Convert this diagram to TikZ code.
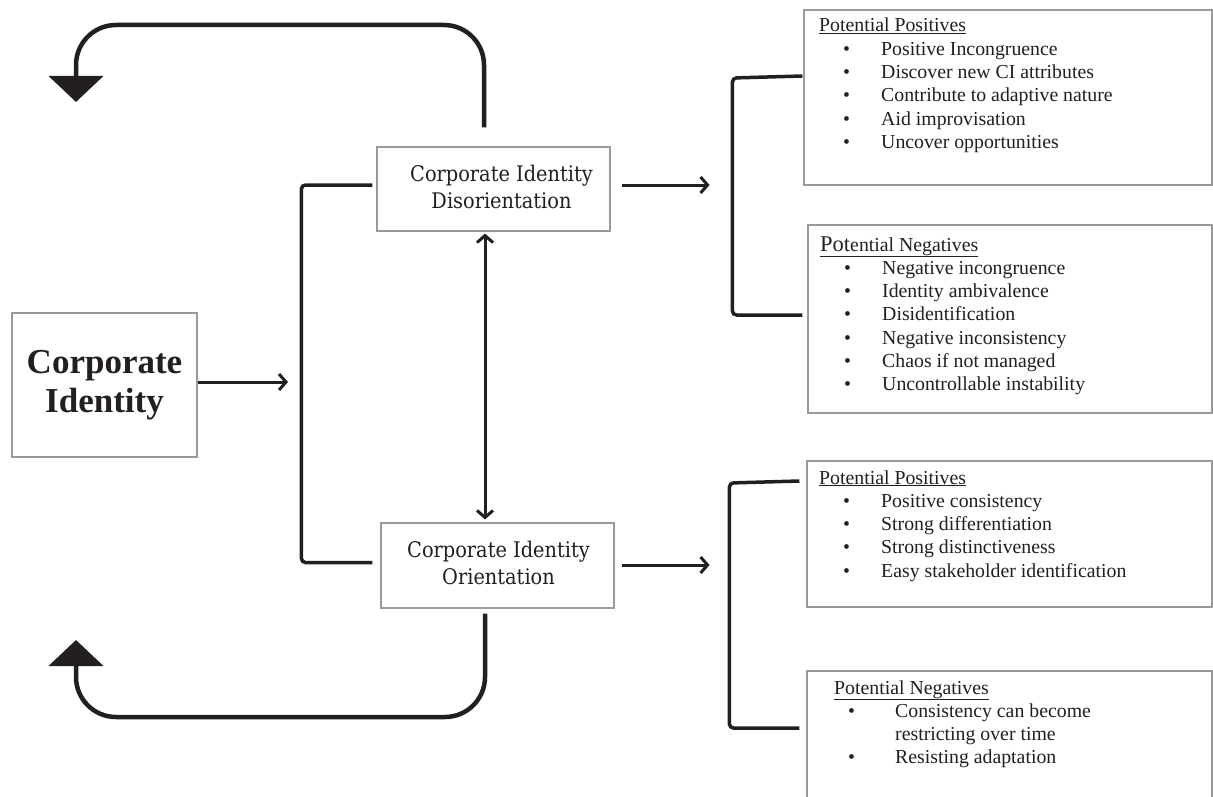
\documentclass[tikz,border=0pt]{standalone}
\usepackage{fontspec}
\setmainfont{Liberation Serif}
\newfontfamily\labfont[FakeStretch=0.9]{DejaVu Serif}
\usetikzlibrary{arrows.meta,calc}
\definecolor{ink}{HTML}{231F20}
\definecolor{frame}{HTML}{9A9A9A}
\newcommand{\itm}[1]{\hspace*{24pt}\makebox[38pt][l]{\textbullet}#1}
\newcommand{\itmb}[1]{\hspace*{14pt}\makebox[47pt][l]{\textbullet}#1}
\begin{document}
\begin{tikzpicture}[x=1pt,y=-1pt,
  lbox/.style={draw=frame, line width=1.1pt, rectangle, inner sep=0pt},
  rbox/.style={draw=frame, line width=1.1pt, rectangle, inner sep=0pt},
  labtext/.style={align=center, inner sep=0pt, text=ink, font=\labfont\fontsize{21.5}{27}\selectfont},
  listtext/.style={anchor=base west, inner sep=0pt, text=ink, font=\fontsize{19.8}{23.3}\selectfont},
  arr/.style={draw=ink, line width=3pt, -{Straight Barb[length=7pt,width=16pt]}},
  dbl/.style={draw=ink, line width=3pt, {Straight Barb[length=7pt,width=16pt]}-{Straight Barb[length=7pt,width=16pt]}},
  brk/.style={draw=ink, line width=3.5pt, rounded corners=4pt},
  backline/.style={draw=ink, line width=4.5pt, rounded corners=40pt, -{Triangle[width=54pt,length=26pt]}},
]
\clip (0,0) rectangle (1213,797);
\fill[white] (0,0) rectangle (1213,797);

% left boxes
\node[lbox, minimum width=185pt, minimum height=144pt, align=center, text=ink,
      font=\fontsize{35}{39}\selectfont\bfseries] (ci) at (104.5,385) {Corporate\\Identity};
\node[lbox, minimum width=233pt, minimum height=84pt] (dis) at (493.5,189) {};
\node[labtext] (distext) at ($(dis.center)+(8,-2)$) {Corporate Identity\\Disorientation};
\node[lbox, minimum width=233pt, minimum height=85pt] (ori) at (497.5,565.5) {};
\node[labtext] (oritext) at ($(ori.center)+(1,-3)$) {Corporate Identity\\Orientation};

% right boxes
\node[rbox, minimum width=408pt, minimum height=175pt] (b1) at (1008,97.5) {};
\node[rbox, minimum width=404pt, minimum height=188pt] (b2) at (1010,319) {};
\node[rbox, minimum width=405pt, minimum height=146pt] (b3) at (1009.5,534) {};
\node[rbox, minimum width=405pt, minimum height=159pt] (b4) at (1009.5,750.5) {};

\node[listtext] (t1) at (819,32) {\begin{tabular}[t]{@{}l@{}}
\underline{Potential Positives}\\
\itm{Positive Incongruence}\\
\itm{Discover new CI attributes}\\
\itm{Contribute to adaptive nature}\\
\itm{Aid improvisation}\\
\itm{Uncover opportunities}
\end{tabular}};
\node[listtext] (t2) at (820,251) {\begin{tabular}[t]{@{}l@{}}
\underline{{\fontsize{22.5}{23.3}\selectfont Pot}ential Negatives}\\
\itm{Negative incongruence}\\
\itm{Identity ambivalence}\\
\itm{Disidentification}\\
\itm{Negative inconsistency}\\
\itm{Chaos if not managed}\\
\itm{Uncontrollable instability}
\end{tabular}};
\node[listtext] (t3) at (819,484) {\begin{tabular}[t]{@{}l@{}}
\underline{Potential Positives}\\
\itm{Positive consistency}\\
\itm{Strong differentiation}\\
\itm{Strong distinctiveness}\\
\itm{Easy stakeholder identification}
\end{tabular}};
\node[listtext] (t4) at (834,694) {\begin{tabular}[t]{@{}l@{}}
\underline{Potential Negatives}\\
\itmb{Consistency can become}\\
\hspace*{61pt}restricting over time\\
\itmb{Resisting adaptation}
\end{tabular}};

% coordinates
\coordinate (bin) at (288,382);
\coordinate (lx) at (485,0);
\coordinate (toptip) at (76,102);
\coordinate (bottip) at (76,640);

% connectors
\draw[arr] (ci.east |- bin) -- (bin);
\draw[brk] ($(dis.west)+(-4,-4)$) -- ++(-71,0) |- ($(ori.west)+(-8,-3)$);
\draw[arr] ($(dis.east)+(11,-4)$) -- ++(88,0);
\draw[arr] ($(ori.east)+(7,-0.5)$) -- ++(88,0);
\draw[dbl] ($(dis.south -| lx)+(0,2)$) -- ($(ori.north -| lx)+(0,-3)$);
\draw[brk] ($(b1.west)+(-1,-21.5)$) -- ++(-70,2) |- ($(b2.west)+(-5,-4)$);
\draw[brk] ($(b3.west)+(-7,-53)$) -- ++(-70,2) |- ($(b4.west)+(-7,-22.5)$);
\draw[backline] ($(dis.north -| lx)+(-1,-19)$) -- (484,25) -- (76,25) -- (toptip);
\draw[backline] ($(ori.south -| lx)+(0,5)$) -- (485,717) -- (76,717) -- (bottip);
\end{tikzpicture}
\end{document}
